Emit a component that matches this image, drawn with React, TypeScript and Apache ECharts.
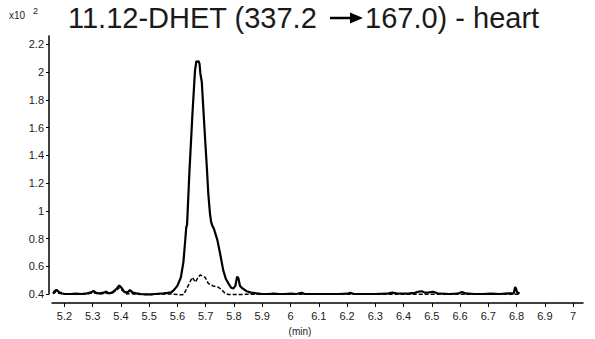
import React, { useEffect, useRef } from "react";
import * as echarts from "echarts";

const solidTime = [
  5.16, 5.165, 5.172, 5.18, 5.19, 5.2, 5.22, 5.24, 5.26, 5.28, 5.295, 5.303, 5.312, 5.325, 5.34, 5.348, 5.356, 5.37,
  5.385, 5.394, 5.402, 5.412, 5.422, 5.432, 5.442, 5.455, 5.47, 5.49, 5.51, 5.53, 5.55, 5.565, 5.578, 5.588, 5.6,
  5.612, 5.621, 5.628, 5.631, 5.634, 5.642, 5.653, 5.662, 5.667, 5.671, 5.675, 5.678, 5.681, 5.686, 5.692, 5.698,
  5.704, 5.709, 5.715, 5.719, 5.724, 5.729, 5.735, 5.741, 5.751, 5.762, 5.771, 5.78, 5.79, 5.798, 5.805, 5.811,
  5.816, 5.821, 5.83, 5.845, 5.86, 5.88, 5.9, 5.92, 5.94, 5.96, 5.98, 6.0, 6.02, 6.04, 6.05, 6.08, 6.11, 6.14, 6.17,
  6.2, 6.212, 6.225, 6.26, 6.3, 6.34, 6.36, 6.375, 6.4, 6.42, 6.44, 6.455, 6.465, 6.475, 6.49, 6.505, 6.52, 6.54,
  6.56, 6.59, 6.607, 6.62, 6.65, 6.68, 6.71, 6.74, 6.77, 6.79, 6.795, 6.798, 6.802, 6.811,
];
const solidValue = [
  0.405, 0.42, 0.43, 0.415, 0.405, 0.4, 0.4, 0.402, 0.4, 0.405, 0.412, 0.422, 0.408, 0.405, 0.41, 0.418, 0.405, 0.41,
  0.44, 0.462, 0.445, 0.415, 0.41, 0.428, 0.41, 0.405, 0.4, 0.398, 0.398, 0.402, 0.405, 0.408, 0.412, 0.43, 0.46,
  0.52, 0.63, 0.8, 0.88, 0.9, 1.27, 1.7, 2.01, 2.08, 2.07, 2.08, 2.06, 1.99, 1.93, 1.72, 1.51,
  1.31, 1.125, 0.98, 0.92, 0.89, 0.87, 0.83, 0.79, 0.69, 0.57, 0.51, 0.477, 0.445, 0.44, 0.46, 0.525,
  0.51, 0.46, 0.44, 0.42, 0.41, 0.405, 0.4, 0.4, 0.402, 0.4, 0.4, 0.402, 0.4, 0.408, 0.4, 0.4, 0.4, 0.4, 0.4,
  0.402, 0.408, 0.4, 0.4, 0.4, 0.402, 0.41, 0.405, 0.402, 0.404, 0.408, 0.418, 0.42, 0.41, 0.412, 0.416, 0.405, 0.402,
  0.4, 0.402, 0.414, 0.404, 0.4, 0.4, 0.402, 0.4, 0.405, 0.405, 0.45, 0.44, 0.41, 0.405,
];

const dashedTime = [
  5.16, 5.168, 5.18, 5.2, 5.24, 5.28, 5.303, 5.32, 5.35, 5.38, 5.394, 5.405, 5.42, 5.435, 5.45, 5.5, 5.55, 5.58,
  5.6, 5.615, 5.622, 5.633, 5.645, 5.653, 5.659, 5.664, 5.67, 5.68, 5.689, 5.698, 5.709, 5.718, 5.727, 5.745,
  5.757, 5.768, 5.78, 5.8, 5.85, 5.9, 6.0, 6.1, 6.2, 6.3, 6.4, 6.5, 6.6, 6.7, 6.811,
];
const dashedValue = [
  0.4, 0.415, 0.405, 0.398, 0.398, 0.4, 0.41, 0.4, 0.405, 0.42, 0.445, 0.425, 0.4, 0.405, 0.398, 0.396, 0.4, 0.4,
  0.396, 0.394, 0.396, 0.44, 0.49, 0.52, 0.5, 0.485, 0.51, 0.537, 0.53, 0.52, 0.477, 0.465, 0.458, 0.448,
  0.43, 0.405, 0.396, 0.396, 0.398, 0.398, 0.398, 0.398, 0.398, 0.398, 0.398, 0.398, 0.398, 0.398, 0.398,
];

const xTicks = [5.2, 5.3, 5.4, 5.5, 5.6, 5.7, 5.8, 5.9, 6, 6.1, 6.2, 6.3, 6.4, 6.5, 6.6, 6.7, 6.8, 6.9, 7];
const yTicks = [0.4, 0.6, 0.8, 1, 1.2, 1.4, 1.6, 1.8, 2, 2.2];

const titleLeft = "11.12-DHET (337.2";
const titleRight = "167.0) - heart";
const xUnit = "(min)";
const yScale = "x10";
const yScaleExp = "2";

const TEXT = "#1a1a1a";
const FONT = "Liberation Sans, Arial, sans-serif";

export default function App() {
  const ref = useRef<HTMLDivElement>(null);
  useEffect(() => {
    if (!ref.current) return;
    const chart = echarts.init(ref.current, null, { renderer: "svg" });
    const solid = solidTime.map((t, i) => [t, solidValue[i]]);
    const dashed = dashedTime.map((t, i) => [t, dashedValue[i]]);
    chart.setOption({
      animation: false,
      backgroundColor: "#ffffff",
      textStyle: { fontFamily: FONT },
      grid: { left: 52, right: 12, top: 36, bottom: 45, containLabel: false },
      xAxis: {
        type: "value",
        min: 5.156,
        max: 7.035,
        offset: 9,
        splitLine: { show: false },
        axisLine: { show: true, onZero: false, lineStyle: { color: "#000", width: 1.5 } },
        axisTick: { show: true, length: 4, customValues: xTicks, lineStyle: { color: "#000", width: 1 } },
        axisLabel: {
          customValues: xTicks,
          color: TEXT,
          fontSize: 11,
          margin: 7,
          fontFamily: FONT,
          formatter: (v: number) => String(Math.round(v * 10) / 10),
        },
      },
      yAxis: {
        type: "value",
        min: 0.4,
        max: 2.26,
        offset: 3,
        splitLine: { show: false },
        axisLine: { show: true, onZero: false, lineStyle: { color: "#000", width: 1.5 } },
        axisTick: { show: true, length: 3, customValues: yTicks, lineStyle: { color: "#000", width: 1 } },
        axisLabel: {
          customValues: yTicks,
          color: TEXT,
          fontSize: 11,
          margin: 5,
          fontFamily: FONT,
          formatter: (v: number) => String(Math.round(v * 10) / 10),
        },
      },
      series: [
        {
          type: "line",
          data: dashed,
          showSymbol: false,
          symbol: "none",
          clip: false,
          lineStyle: { color: "#000", width: 1.5, type: [4, 2] },
          z: 2,
        },
        {
          type: "line",
          data: solid,
          showSymbol: false,
          symbol: "none",
          clip: false,
          lineStyle: { color: "#000", width: 2.2 },
          z: 3,
        },
      ],
      graphic: [
        {
          type: "text",
          left: 68,
          top: 3,
          style: { text: titleLeft, fill: TEXT, font: `29px ${FONT}` },
        },
        {
          type: "line",
          shape: { x1: 330, y1: 18, x2: 352, y2: 18 },
          style: { stroke: "#000", lineWidth: 2.5 },
        },
        {
          type: "polygon",
          shape: { points: [[350, 12.5], [363, 18], [350, 23.5]] },
          style: { fill: "#000" },
        },
        {
          type: "text",
          left: 365,
          top: 3,
          style: { text: titleRight, fill: TEXT, font: `29px ${FONT}` },
        },
        {
          type: "text",
          left: 9,
          top: 10,
          style: { text: yScale, fill: TEXT, font: `10px ${FONT}` },
        },
        {
          type: "text",
          left: 33,
          top: 6,
          style: { text: yScaleExp, fill: TEXT, font: `9px ${FONT}` },
        },
        {
          type: "text",
          x: 300,
          y: 331,
          style: { text: xUnit, fill: TEXT, font: `10px ${FONT}`, align: "center", verticalAlign: "middle" },
        },
      ],
    });
    return () => chart.dispose();
  }, []);
  return <div ref={ref} style={{ width: 595, height: 339, position: "absolute", left: 0, top: 0 }} />;
}
